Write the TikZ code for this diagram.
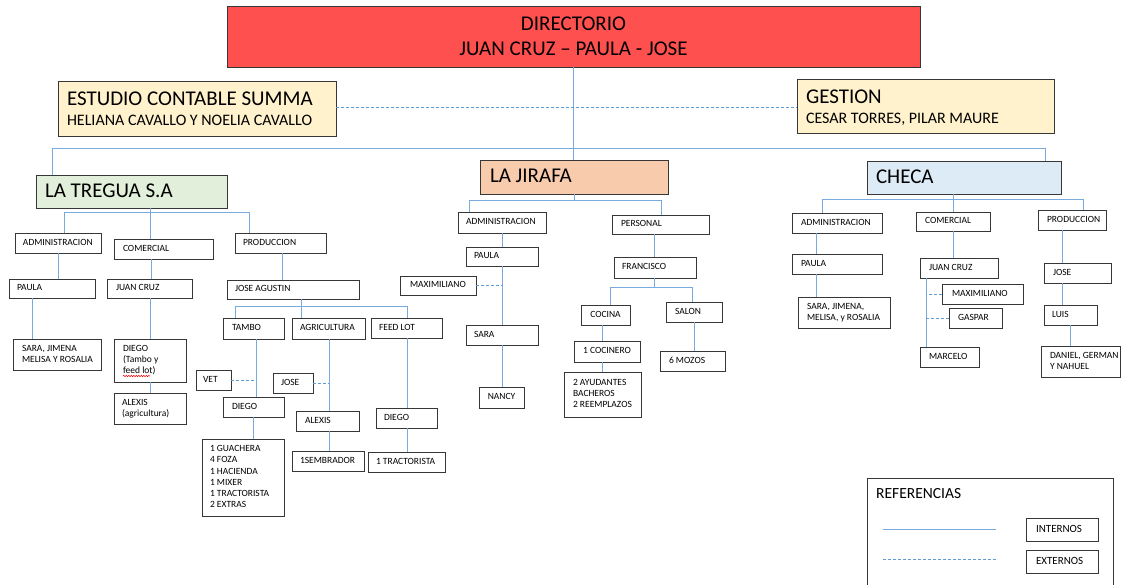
\documentclass[tikz,border=0pt]{standalone}
\usepackage{fontspec}
\setmainfont{Carlito}
\usetikzlibrary{decorations.pathmorphing}
\definecolor{lnblue}{RGB}{120,170,222}
\definecolor{dsblue}{RGB}{95,155,215}
\definecolor{boxgray}{RGB}{55,55,55}
\definecolor{dirred}{RGB}{255,80,80}
\definecolor{yel}{RGB}{255,242,204}
\definecolor{grn}{RGB}{226,239,218}
\definecolor{ora}{RGB}{248,203,173}
\definecolor{blu}{RGB}{221,235,247}
\tikzset{
  sb/.style={draw=boxgray, line width=0.8pt, fill=white, rectangle, inner sep=0pt, outer sep=0pt, font=\fontsize{9.5}{11.2}\selectfont},
  lb/.style={sb, font=\fontsize{11}{13}\selectfont},
  bb/.style={draw=boxgray, line width=0.9pt, rectangle, inner sep=0pt, outer sep=0pt, font=\fontsize{16}{20}\selectfont},
  tb/.style={bb, font=\fontsize{21}{30}\selectfont},
  con/.style={draw=lnblue, line width=1pt},
  ext/.style={draw=dsblue, line width=1pt, dash pattern=on 3pt off 2pt},
}
\newcommand\obox[9]{%
  \pgfmathsetmacro\obw{#5-#3}\pgfmathsetmacro\obh{#6-#4}\pgfmathsetmacro\obt{#5-#3-2*#7}%
  \node[#1, anchor=north west, minimum width=\obw pt, minimum height=\obh pt] (#2) at (#3,#4)
    {\makebox[\obt pt][#8]{\begin{tabular}{@{}#8@{}}#9\end{tabular}}};}
\newcommand\vc[3]{\draw[con] (#1.south -| #3,0) -- (#2.north -| #3,0);}
\begin{document}
\begin{tikzpicture}[x=1pt,y=-1pt]
\useasboundingbox (0,0) rectangle (1121,585);
\clip (0,0) rectangle (1121,585);
% top level
\node[bb, fill=dirred, anchor=north west, minimum width=693pt, minimum height=61pt, align=center, font=\fontsize{21}{25}\selectfont] (dir) at (227,6) {DIRECTORIO\\JUAN CRUZ – PAULA - JOSE};
\obox{bb,fill=yel}{est}{58}{81}{336}{136}{9}{l}{\rule{0pt}{21pt}{\fontsize{21}{20}\selectfont ESTUDIO CONTABLE SUMMA}\\HELIANA CAVALLO Y NOELIA CAVALLO}
\obox{bb,fill=yel}{ges}{797}{79}{1054}{133}{9}{l}{\rule{0pt}{21pt}{\fontsize{21}{20}\selectfont GESTION}\\CESAR TORRES, PILAR MAURE}
\obox{tb,fill=grn}{treg}{36}{175}{227}{208}{9}{l}{LA TREGUA S.A}
\obox{tb,fill=ora}{jir}{480}{160}{668}{194}{10}{l}{LA JIRAFA}
\obox{tb,fill=blu}{che}{867}{161}{1061}{194}{9}{l}{CHECA}
% LA TREGUA
\obox{sb}{adm1}{15}{233}{101}{253}{8}{l}{ADMINISTRACION}
\obox{sb}{com1}{114}{239}{213}{259}{9}{l}{COMERCIAL}
\obox{sb}{prod1}{235}{233}{326}{253}{8}{l}{PRODUCCION}
\obox{sb}{pau1}{9}{279}{95}{298}{8}{l}{PAULA}
\obox{sb}{jc1}{107}{279}{192}{298}{9}{l}{JUAN CRUZ}
\obox{sb}{sar1}{13}{339}{101}{370}{9}{l}{SARA, JIMENA\\MELISA Y ROSALIA}
\obox{sb}{die1}{114}{339}{186}{382}{9}{l}{DIEGO\\(Tambo y\\feed lot)}
\obox{sb}{ale1}{114}{393}{186}{424}{8}{l}{ALEXIS\\(agricultura)}
\obox{sb}{ja}{227}{280}{359}{299}{8}{l}{JOSE AGUSTIN}
\obox{sb}{tam}{223}{318}{284}{339}{9}{l}{TAMBO}
\obox{sb}{agr}{292}{318}{365}{339}{8}{l}{AGRICULTURA}
\obox{sb}{fee}{371}{318}{442}{338}{8}{l}{FEED LOT}
\obox{sb}{vet}{196}{370}{231}{390}{7}{l}{VET}
\obox{sb}{jos1}{273}{373}{313}{393}{8}{l}{JOSE}
\obox{sb}{die2}{223}{397}{284}{417}{9}{l}{DIEGO}
\obox{sb}{gua}{202}{439}{284}{516}{8}{l}{1 GUACHERA\\4 FOZA\\1 HACIENDA\\1 MIXER\\1 TRACTORISTA\\2 EXTRAS}
\obox{sb}{ale2}{296}{411}{359}{431}{9}{l}{ALEXIS}
\obox{sb}{sem}{292}{451}{364}{471}{8}{l}{1SEMBRADOR}
\obox{sb}{die3}{376}{408}{437}{428}{8}{l}{DIEGO}
\obox{sb}{tra}{368}{452}{445}{472}{8}{l}{1 TRACTORISTA}
% LA JIRAFA
\obox{sb}{adm2}{458}{212}{546}{233}{8}{l}{ADMINISTRACION}
\obox{sb}{per}{612}{215}{709}{234}{9}{l}{PERSONAL}
\obox{sb}{pau2}{466}{247}{538}{266}{8}{l}{PAULA}
\obox{sb}{max2}{400}{276}{476}{295}{6}{c}{MAXIMILIANO}
\obox{sb}{sar2}{466}{325}{538}{345}{8}{l}{SARA}
\obox{sb}{nan}{479}{387}{524}{408}{4}{c}{NANCY}
\obox{sb}{fra}{614}{257}{696}{278}{8}{l}{FRANCISCO}
\obox{sb}{coc}{581}{305}{630}{325}{5}{c}{COCINA}
\obox{sb}{sal}{666}{302}{722}{322}{9}{l}{SALON}
\obox{sb}{coc1}{574}{341}{640}{362}{5}{c}{1 COCINERO}
\obox{sb}{ayu}{564}{372}{641}{417}{9}{l}{2 AYUDANTES\\BACHEROS\\2 REEMPLAZOS}
\obox{sb}{moz}{660}{351}{725}{371}{9}{l}{6 MOZOS}
% CHECA
\obox{sb}{adm3}{792}{213}{882}{233}{9}{l}{ADMINISTRACION}
\obox{sb}{com3}{916}{212}{990}{231}{9}{l}{COMERCIAL}
\obox{sb}{prod3}{1038}{210}{1106}{230}{9}{l}{PRODUCCION}
\obox{sb}{pau3}{792}{254}{882}{274}{9}{l}{PAULA}
\obox{sb}{sar3}{798}{297}{890}{328}{9}{l}{SARA, JIMENA,\\MELISA, y ROSALIA}
\obox{sb}{jc3}{920}{258}{998}{278}{9}{l}{JUAN CRUZ}
\obox{sb}{max3}{942}{284}{1023}{304}{10}{l}{MAXIMILIANO}
\obox{sb}{gas}{949}{308}{1002}{328}{9}{l}{GASPAR}
\obox{sb}{mar}{920}{347}{979}{367}{9}{l}{MARCELO}
\obox{sb}{jos3}{1044}{263}{1111}{283}{9}{l}{JOSE}
\obox{sb}{lui}{1044}{305}{1097}{325}{8}{l}{LUIS}
\obox{sb}{dan}{1041}{346}{1120}{377}{9}{l}{DANIEL, GERMAN\\Y NAHUEL}
% legend
\node[draw=boxgray, line width=0.8pt, anchor=north west, minimum width=246pt, minimum height=130pt, inner sep=0pt, outer sep=0pt] (ref) at (867,478) {};
\node[anchor=north west, inner sep=0pt, font=\fontsize{15.5}{18}\selectfont] (reft) at (876,488) {REFERENCIAS};
\obox{lb}{int}{1026}{518}{1098}{541}{10}{l}{INTERNOS}
\obox{lb}{ext}{1026}{550}{1098}{573}{10}{l}{EXTERNOS}
\draw[con] (883,529) -- (996,529);
\draw[ext] (883,559) -- (996,559);
% spell-check mark
\draw[red, line width=0.5pt, decorate, decoration={snake, amplitude=0.7pt, segment length=2.5pt}] ([xshift=9pt,yshift=6pt]die1.south west) -- ([xshift=36pt,yshift=6pt]die1.south west);
% connectors: top
\draw[con] (dir.south) -- (dir.south |- jir.north);
\draw[ext] (est.east |- 0,107.5) -- (ges.west |- 0,107.5);
\draw[con] (treg.north -| 52,0) -- (52,149) -- (1045,149) -- (che.north -| 1045,0);
% LA TREGUA
\draw[con] (treg.south -| 150,0) -- (com1.north -| 150,0);
\draw[con] (adm1.north -| 64,0) -- (64,213) -- (249,213) -- (prod1.north -| 249,0);
\vc{adm1}{pau1}{58} \vc{pau1}{sar1}{32} \vc{com1}{jc1}{151} \vc{jc1}{die1}{150} \vc{die1}{ale1}{150}
\vc{prod1}{ja}{282}
\draw[con] (ja.south -| 301,0) -- (agr.north -| 301,0);
\draw[con] (tam.north -| 235,0) -- (235,306) -- (407,306) -- (fee.north -| 407,0);
\vc{tam}{die2}{256} \vc{die2}{gua}{253} \vc{agr}{ale2}{329} \vc{ale2}{sem}{329} \vc{fee}{die3}{407} \vc{die3}{tra}{407}
\draw[ext] (vet.east) -- (vet.east -| 256,0);
\draw[ext] (jos1.east) -- (jos1.east -| 329,0);
% LA JIRAFA
\draw[con] (jir.south -| 574,0) -- (574,201);
\draw[con] (adm2.north -| 469,0) -- (469,201) -- (661,201) -- (per.north -| 661,0);
\vc{adm2}{pau2}{502} \vc{pau2}{sar2}{502} \vc{sar2}{nan}{502}
\draw[ext] (max2.east) -- (max2.east -| 502,0);
\vc{per}{fra}{654}
\draw[con] (fra.south -| 654,0) -- (654,287);
\draw[con] (coc.north -| 610,0) -- (610,287) -- (692,287) -- (sal.north -| 692,0);
\vc{coc}{coc1}{602} \vc{coc1}{ayu}{602} \vc{sal}{moz}{694}
% CHECA
\draw[con] (che.south -| 953,0) -- (com3.north -| 953,0);
\draw[con] (adm3.north -| 822,0) -- (822,200) -- (1083,200) -- (prod3.north -| 1083,0);
\vc{adm3}{pau3}{816} \vc{pau3}{sar3}{816} \vc{com3}{jc3}{953} \vc{jc3}{mar}{926}
\draw[ext] (max3.west) -- (max3.west -| 926,0);
\draw[ext] (gas.west) -- (gas.west -| 926,0);
\vc{prod3}{jos3}{1062} \vc{jos3}{lui}{1062} \vc{lui}{dan}{1070}
\end{tikzpicture}
\end{document}
